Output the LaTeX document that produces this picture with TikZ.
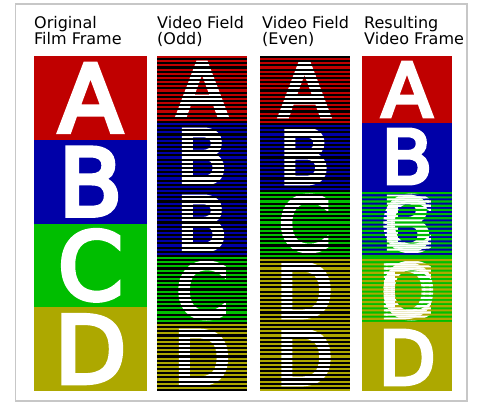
\documentclass[tikz,border=0pt]{standalone}
\usepackage{fontspec}
\setmainfont{DejaVu Sans}
\newfontfamily\letterfont[FakeBold=5]{DejaVu Sans}
\usepackage{tikz}
\definecolor{filmred}{HTML}{C00000}
\definecolor{filmblue}{HTML}{0000A8}
\definecolor{filmgreen}{HTML}{00BE00}
\definecolor{filmolive}{HTML}{ADA800}
\tikzset{
    panel/.style={draw=black!22, line width=1.2pt},
    head/.style={anchor=north west, align=left, inner sep=0pt, font=\fontsize{16}{16}\selectfont},
    letter/.style={inner sep=0pt, text=white, font=\fontsize{93}{93}\selectfont\letterfont},
    scanline/.style={fill=black}
}
% name, x, y, width, height, colour, letter
\newcommand{\frameblock}[7]{%
    \pgfmathsetmacro\lscale{#5/83.75}
    \fill[#6] (#2,#3) rectangle ++(#4,#5);
    \node[letter, scale=\lscale] (#1) at (#2+#4/2,#3+#5/2) {#7};
}
\begin{document}
\begin{tikzpicture}[x=1pt, y=-1pt]
    \useasboundingbox (0,0) rectangle (480,404);
    \draw[panel] (15.5,4) rectangle (467,401);
    % headings
    \node[head] (hfilm) at (34,16.5) {Original\\Film Frame};
    \node[head] (hodd) at (157,16.5) {Video Field\\(Odd)};
    \node[head] (heven) at (262,16.5) {Video Field\\(Even)};
    \node[head] (hres) at (364,16.5) {Resulting\\Video Frame};
    % film frames
    \foreach \k/\lt/\col in {0/A/filmred,1/B/filmblue,2/C/filmgreen,3/D/filmolive}
        {\frameblock{film\lt}{34}{56+\k*83.75}{113}{83.75}{\col}{\lt}}
    % fields
    \foreach \k/\lt/\col in {0/A/filmred,1/B/filmblue,2/B/filmblue,3/C/filmgreen,4/D/filmolive}
        {\frameblock{odd\k}{157}{56+\k*67}{90}{67}{\col}{\lt}}
    \foreach \k/\lt/\col in {0/A/filmred,1/B/filmblue,2/C/filmgreen,3/D/filmolive,4/D/filmolive}
        {\frameblock{even\k}{259.5}{56+\k*67}{90}{67}{\col}{\lt}}
    \foreach \cx/\off in {157/2.09375,259.5/0}
        \foreach \i in {0,...,79}
            \fill[scanline] (\cx,56+\i*4.1875+\off) rectangle ++(90,2.09375);
    % resulting video frames
    \foreach \k/\lt/\col in {0/A/filmred,1/B/filmblue,2/B/filmblue,3/C/filmgreen,4/D/filmolive}
        {\frameblock{res\k}{362}{56+\k*67}{90}{67}{\col}{\lt}}
    \foreach \k/\lt/\col in {2/C/filmgreen,3/D/filmolive}{
        \begin{scope}
            \clip \foreach \i in {0,...,15} {(362,56+\k*67+\i*4.1875+2.09375) rectangle ++(90,2.09375)};
            \frameblock{mix\k}{362}{56+\k*67}{90}{67}{\col}{\lt}
        \end{scope}
    }
\end{tikzpicture}
\end{document}
